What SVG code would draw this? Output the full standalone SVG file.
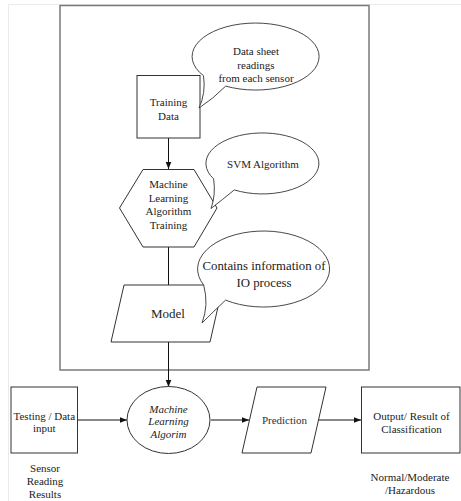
<svg xmlns="http://www.w3.org/2000/svg" width="461" height="501" viewBox="0 0 461 501">
<defs>
<marker id="arr" viewBox="0 0 10 10" refX="10" refY="5" markerWidth="7" markerHeight="7" markerUnits="userSpaceOnUse" orient="auto">
<path d="M0,1 L10,5 L0,9 Z" fill="#111"/>
</marker>
<style>
.shape{fill:#fff;stroke:#333;stroke-width:1}
.bub{fill:#fff;stroke:#333;stroke-width:0.9}
.t{font-family:"Liberation Serif","Times New Roman",serif;font-size:11px;fill:#222;text-anchor:middle}
.ti{font-style:italic}
.conn{fill:none;stroke:#111;stroke-width:1}
</style>
</defs>
<rect width="461" height="501" fill="#fff"/>
<g id="page-border">
<line x1="8" y1="4.5" x2="461" y2="4.5" stroke="#ebebeb" stroke-width="1"/>
<line x1="8.5" y1="4.5" x2="8.5" y2="501" stroke="#ebebeb" stroke-width="1"/>
</g>
<g id="frame">
<rect x="60" y="5.5" width="309" height="364.5" fill="none" stroke="#7a7a7a" stroke-width="1.5"/>
</g>
<g id="connectors">
<line class="conn" x1="168.5" y1="138" x2="168.5" y2="169" marker-end="url(#arr)"/>
<line class="conn" x1="168.5" y1="247" x2="168.5" y2="285"/>
<line class="conn" x1="168.5" y1="342" x2="168.5" y2="387" marker-end="url(#arr)"/>
<line class="conn" x1="78" y1="420" x2="127" y2="420" marker-end="url(#arr)"/>
<line class="conn" x1="211" y1="420" x2="249" y2="420" marker-end="url(#arr)"/>
<line class="conn" x1="318" y1="420" x2="361" y2="420" marker-end="url(#arr)"/>
</g>
<g id="training-data">
<rect class="shape" x="137" y="75.5" width="63" height="62.5"/>
<text class="t" x="168.5" y="105.5">Training</text>
<text class="t" x="168.5" y="120">Data</text>
</g>
<g id="ml-training">
<polygon class="shape" points="143,169.5 194,169.5 217,208 194,247 143,247 119.5,208"/>
<text class="t" x="168.5" y="188">Machine</text>
<text class="t" x="168.5" y="201.5">Learning</text>
<text class="t" x="168.5" y="215">Algorithm</text>
<text class="t" x="168.5" y="228.5">Training</text>
</g>
<g id="model">
<polygon class="shape" points="124,285 223,285 210,342 111,342"/>
<text class="t" x="168" y="318" style="font-size:13px">Model</text>
</g>
<g id="callout-datasheet">
<path class="bub" d="M225.7,86.1 A63.5,33.5 0 1 0 203.5,75.7 Q206,93 199,108 Q213,99 225.7,86.1 Z"/>
<text class="t" x="256" y="55">Data sheet</text>
<text class="t" x="256" y="68.5">readings</text>
<text class="t" x="256" y="82">from each sensor</text>
</g>
<g id="callout-svm">
<path class="bub" d="M234.3,189.9 A56.5,30.5 0 1 0 213.6,178.8 Q216,195 211,208.5 Q222,200 234.3,189.9 Z"/>
<text class="t" x="263" y="168">SVM Algorithm</text>
</g>
<g id="callout-io">
<path class="bub" d="M225.6,300.1 A66,38 0 1 0 203.7,285 Q209,305 202,323 Q214,311 225.6,300.1 Z"/>
<text class="t" x="264" y="270" style="font-size:12.8px">Contains information of</text>
<text class="t" x="264" y="287" style="font-size:12.8px">IO process</text>
</g>
<g id="testing-input">
<rect class="shape" x="11" y="387" width="66.5" height="66"/>
<text class="t" x="44.3" y="419.5">Testing / Data</text>
<text class="t" x="44.3" y="432">input</text>
</g>
<g id="ml-algorithm">
<ellipse class="shape" cx="168.5" cy="420" rx="41.5" ry="33.5"/>
<text class="t ti" x="168.5" y="412.5">Machine</text>
<text class="t ti" x="168.5" y="425">Learning</text>
<text class="t ti" x="168.5" y="438">Algorim</text>
</g>
<g id="prediction">
<polygon class="shape" points="257,387 326,387 311,453 242,453"/>
<text class="t" x="284.5" y="423.5" style="fill:#2a3340">Prediction</text>
</g>
<g id="output">
<rect class="shape" x="361.5" y="387" width="98.5" height="66"/>
<text class="t" x="411.5" y="420">Output/ Result of</text>
<text class="t" x="411.5" y="433">Classification</text>
</g>
<g id="labels">
<text class="t" x="45" y="472">Sensor</text>
<text class="t" x="45" y="485">Reading</text>
<text class="t" x="45" y="498">Results</text>
<text class="t" x="410" y="481">Normal/Moderate</text>
<text class="t" x="410" y="494">/Hazardous</text>
</g>
</svg>
